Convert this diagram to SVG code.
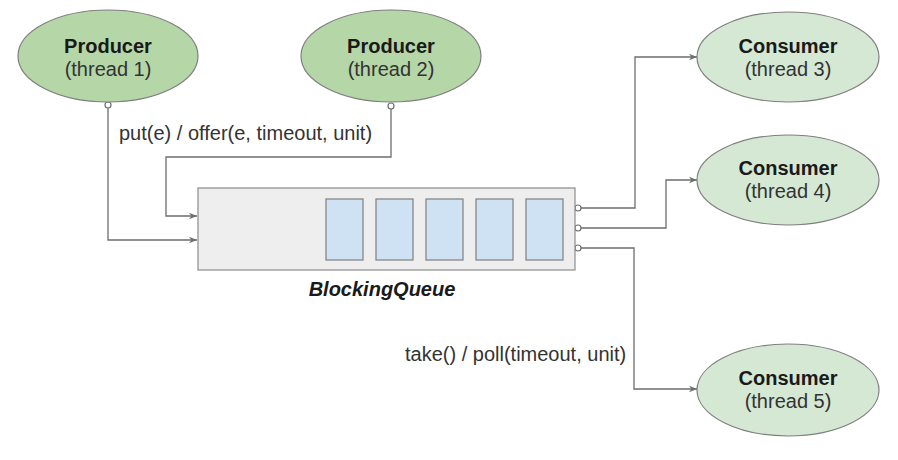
<svg xmlns="http://www.w3.org/2000/svg" width="898" height="460" viewBox="0 0 898 460">
<defs>
<style>
.prod{fill:#b5d6a7;stroke:#7f7f7f;stroke-width:1.2}
.cons{fill:#d5e8d4;stroke:#7f7f7f;stroke-width:1.2}
.t{font-family:"Liberation Sans",Arial,sans-serif;font-size:20px;fill:#1a1a1a;text-anchor:middle}
.b{font-weight:bold}
.sub{fill:#333}
.lbl{font-family:"Liberation Sans",Arial,sans-serif;font-size:20px;fill:#333}
.edge{fill:none;stroke:#6e6e6e;stroke-width:1.3}
.dot{fill:#fff;stroke:#6e6e6e;stroke-width:1.2}
.cell{fill:#cfe2f3;stroke:#7f7f7f;stroke-width:1.2}
</style>
<marker id="arr" viewBox="0 0 10 10" refX="10" refY="5" markerWidth="8" markerHeight="8" markerUnits="userSpaceOnUse" orient="auto">
<path d="M0,1 L10,5 L0,9 L3,5 Z" fill="#6e6e6e"/>
</marker>
</defs>
<rect width="898" height="460" fill="#fff"/>
<g id="connectors">
<path class="edge" d="M108,106 V240 H197" marker-end="url(#arr)"/>
<path class="edge" d="M391,107 V157 H166 V216 H197" marker-end="url(#arr)"/>
<path class="edge" d="M581,208 H635 V57 H697" marker-end="url(#arr)"/>
<path class="edge" d="M581,228 H666 V180 H697" marker-end="url(#arr)"/>
<path class="edge" d="M581,248 H634 V389 H697" marker-end="url(#arr)"/>
<circle class="dot" cx="108" cy="105" r="3"/>
<circle class="dot" cx="391" cy="106" r="3"/>
<circle class="dot" cx="578" cy="208" r="3"/>
<circle class="dot" cx="578" cy="228" r="3"/>
<circle class="dot" cx="578" cy="248" r="3"/>
<text class="lbl" x="119" y="140">put(e) / offer(e, timeout, unit)</text>
<text class="lbl" x="405" y="361">take() / poll(timeout, unit)</text>
</g>
<g id="queue">
<rect x="198" y="188" width="377" height="82" fill="#eeeeee" stroke="#8c8c8c" stroke-width="1.2"/>
<rect class="cell" x="326" y="199" width="37" height="61"/>
<rect class="cell" x="376" y="199" width="37" height="61"/>
<rect class="cell" x="426" y="199" width="37" height="61"/>
<rect class="cell" x="476" y="199" width="37" height="61"/>
<rect class="cell" x="526" y="199" width="37" height="61"/>
<text class="t b" x="382" y="296" font-style="italic">BlockingQueue</text>
</g>
<g id="producer1">
<ellipse class="prod" cx="108" cy="56" rx="90" ry="46"/>
<text class="t b" x="108" y="53">Producer</text>
<text class="t sub" x="108" y="76">(thread 1)</text>
</g>
<g id="producer2">
<ellipse class="prod" cx="391" cy="56" rx="90" ry="46"/>
<text class="t b" x="391" y="53">Producer</text>
<text class="t sub" x="391" y="76">(thread 2)</text>
</g>
<g id="consumer3">
<ellipse class="cons" cx="788" cy="57" rx="91" ry="45"/>
<text class="t b" x="788" y="53">Consumer</text>
<text class="t sub" x="788" y="76">(thread 3)</text>
</g>
<g id="consumer4">
<ellipse class="cons" cx="788" cy="180" rx="91" ry="45"/>
<text class="t b" x="788" y="175">Consumer</text>
<text class="t sub" x="788" y="198">(thread 4)</text>
</g>
<g id="consumer5">
<ellipse class="cons" cx="788" cy="390" rx="91" ry="46"/>
<text class="t b" x="788" y="385">Consumer</text>
<text class="t sub" x="788" y="408">(thread 5)</text>
</g>
</svg>
